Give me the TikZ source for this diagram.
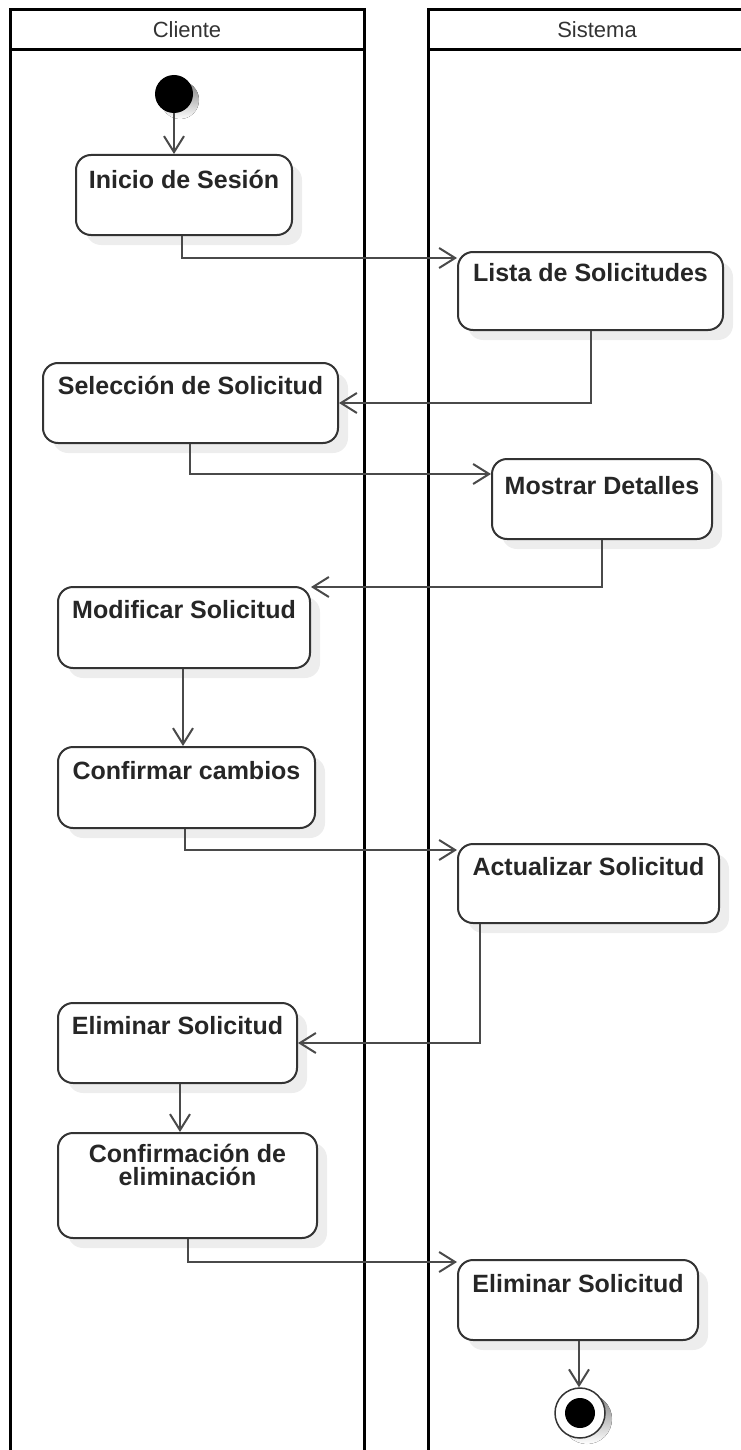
\documentclass[tikz,border=0pt]{standalone}
\usepackage{fontspec}
\setmainfont{Liberation Sans}
\usetikzlibrary{arrows.meta,shadows}
\definecolor{boxline}{HTML}{333333}
\definecolor{conn}{HTML}{4A4A4A}
\definecolor{shade}{HTML}{EDEDED}
\tikzset{
  lane/.style={draw=black, line width=3pt},
  act/.style={draw=boxline, line width=2pt, rounded corners=15pt, fill=white,
    minimum height=80pt, inner sep=0pt,
    drop shadow={shadow xshift=10pt, shadow yshift=-10pt, fill=shade, opacity=1}},
  acttext/.style={font=\bfseries\fontsize{25}{27}\selectfont, align=center, anchor=north, inner sep=0pt, text=black!85},
  hdr/.style={font=\fontsize{22}{24}\selectfont, text=black!80},
  flow/.style={draw=conn, line width=2pt, -{Straight Barb[length=16pt,width=20pt,line width=2pt]}},
}
\begin{document}
\begin{tikzpicture}[x=1pt,y=-1pt]
\useasboundingbox (0,0) rectangle (741,1450);
% lanes
\draw[lane] (10,1470) -- (10,10) -- (364,10) -- (364,1470);
\draw[lane] (10,50) -- (364,50);
\draw[lane] (428,1470) -- (428,10) -- (770,10);
\draw[lane] (428,50) -- (770,50);
\node[hdr] (hc) at (187,30) {Cliente};
\node[hdr] (hs) at (597,30) {Sistema};
% initial
\fill[shade] (180,100) circle (19);
\node[circle, fill=black, minimum size=38pt, inner sep=0pt] (ini) at (174,94) {};
% activities
\node[act, minimum width=216pt] (a1) at (184,195) {};
\node[acttext] (t1) at ([yshift=-16]a1.north) {Inicio de Sesión};
\node[act, minimum width=265pt, minimum height=78pt] (a2) at (590.5,291) {};
\node[acttext] (t2) at ([yshift=-12]a2.north) {Lista de Solicitudes};
\node[act, minimum width=295pt] (a3) at (190.5,403) {};
\node[acttext] (t3) at ([yshift=-14]a3.north) {Selección de Solicitud};
\node[act, minimum width=220pt] (a4) at (602,499) {};
\node[acttext] (t4) at ([yshift=-18]a4.north) {Mostrar Detalles};
\node[act, minimum width=252pt, minimum height=81pt] (a5) at (184,627.5) {};
\node[acttext] (t5) at ([yshift=-14]a5.north) {Modificar Solicitud};
\node[act, minimum width=257pt, minimum height=81pt] (a6) at (186.5,787.5) {};
\node[acttext] (t6) at ([yshift=-15]a6.north) {Confirmar cambios};
\node[act, minimum width=261pt, minimum height=79pt] (a7) at (588.5,883.5) {};
\node[acttext] (t7) at ([yshift=-14]a7.north) {Actualizar Solicitud};
\node[act, minimum width=239pt] (a8) at (177.5,1043) {};
\node[acttext] (t8) at ([yshift=-14]a8.north) {Eliminar Solicitud};
\node[act, minimum width=259pt, minimum height=105pt] (a9) at (187.5,1185.5) {};
\node[acttext] (t9) at ([yshift=-12]a9.north) {Confirmación de\\[-4pt]eliminación};
\node[act, minimum width=240pt] (a10) at (578,1300) {};
\node[acttext] (t10) at ([yshift=-15]a10.north) {Eliminar Solicitud};
% final
\fill[shade] (587,1419) circle (25);
\node[circle, draw=boxline, line width=1.5pt, fill=white, minimum size=50pt, inner sep=0pt] (fin) at (580,1413) {};
\node[circle, fill=black, minimum size=30pt, inner sep=0pt] (finc) at (fin.center) {};
% connectors
\draw[flow] (ini.south) -- (a1.north -| ini.south);
\draw[flow] (a1.south -| 182,0) |- ([yshift=-7]a2.north west);
\draw[flow] (a2.south) |- (a3.east);
\draw[flow] (a3.south -| 190,0) |- ([yshift=-16]a4.north west);
\draw[flow] (a4.south) |- ([yshift=-1]a5.north east);
\draw[flow] (a5.south -| 183,0) -- (a6.north -| 183,0);
\draw[flow] (a6.south -| 185,0) |- ([yshift=-7]a7.north west);
\draw[flow] (a7.south -| 480,0) |- (a8.east);
\draw[flow] (a8.south -| 180,0) -- (a9.north -| 180,0);
\draw[flow] (a9.south -| 188,0) |- ([yshift=-3]a10.north west);
\draw[flow] (a10.south -| 579,0) -- (fin.north -| 579,0);
\end{tikzpicture}
\end{document}
